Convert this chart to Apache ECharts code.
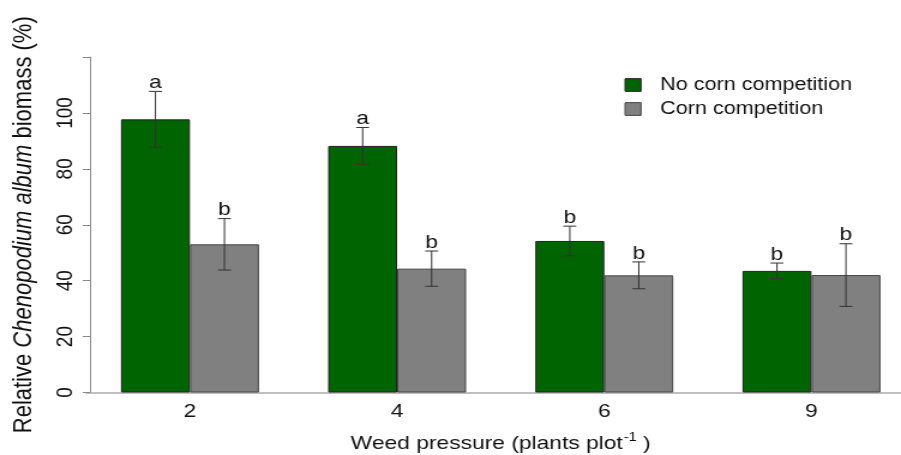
<!DOCTYPE html>
<html>
<head>
<meta charset="utf-8">
<script src="https://cdn.jsdelivr.net/npm/echarts@6/dist/echarts.min.js"></script>
<style>
html,body{margin:0;padding:0;background:#fff;overflow:hidden}
#c{width:751px;height:455px;transform:scaleX(1.19973);transform-origin:0 0}
</style>
</head>
<body>
<div id="c"></div>
<script>
var categories = ['2', '4', '6', '9'];
var noCorn = [97.7, 88.2, 54.2, 43.5];
var noCornErr = [10.0, 6.6, 5.3, 2.8];
var noCornLetters = ['a', 'a', 'b', 'b'];
var corn = [53.0, 44.3, 41.9, 42.0];
var cornErr = [9.2, 6.3, 4.8, 11.2];
var cornLetters = ['b', 'b', 'b', 'b'];
var yTicks = [0, 20, 40, 60, 80, 100];

var BAR_W = 57.5;
var FONT = 'Liberation Sans, Arial, Helvetica, sans-serif';
function errSeries(vals, errs, letters, side) {
  return {
    type: 'custom',
    z: 5,
    data: vals.map(function (v, i) { return [i, v, errs[i]]; }),
    renderItem: function (params, api) {
      var i = api.value(0), v = api.value(1), e = api.value(2);
      var top = api.coord([i, v + e]);
      var bot = api.coord([i, v - e]);
      var x = top[0] + side * BAR_W / 2;
      var cap = 5.4;
      var st = { stroke: '#333', lineWidth: 1 };
      return {
        type: 'group',
        children: [
          { type: 'line', shape: { x1: x, y1: top[1], x2: x, y2: bot[1] }, style: st },
          { type: 'line', shape: { x1: x - cap, y1: top[1], x2: x + cap, y2: top[1] }, style: st },
          { type: 'line', shape: { x1: x - cap, y1: bot[1], x2: x + cap, y2: bot[1] }, style: st },
          { type: 'text', style: { text: letters[params.dataIndex], x: x, y: top[1] + 1, align: 'center', verticalAlign: 'bottom', fontSize: 19, fontFamily: FONT, fill: '#111' } }
        ]
      };
    }
  };
}

var chart = echarts.init(document.getElementById('c'), null, { renderer: 'canvas' });
chart.setOption({
  animation: false,
  backgroundColor: '#fff',
  textStyle: { fontFamily: FONT },
  grid: { left: 72, top: 57, width: 690.7, bottom: 62.5, outerBoundsMode: 'none', containLabel: false },
  legend: {
    left: 515.5, top: 68, orient: 'vertical', itemGap: 0, itemWidth: 13.3, itemHeight: 12.7,
    textStyle: { fontSize: 18, color: '#111', lineHeight: 24, padding: [0, 0, 0, 11] },
    data: [
      { name: 'No corn competition', icon: 'rect', itemStyle: { color: '#006400', borderColor: '#222', borderWidth: 1 } },
      { name: 'Corn competition', icon: 'rect', itemStyle: { color: '#808080', borderColor: '#444', borderWidth: 1 } }
    ]
  },
  xAxis: {
    type: 'category', data: categories,
    axisLine: { show: true, lineStyle: { color: '#aaa', width: 1.5 } },
    axisTick: { show: false },
    axisLabel: { fontSize: 19, color: '#111', margin: 10 },
    name: '{a|Weed pressure (plants plot}{s|-1}{a| )}',
    nameLocation: 'middle', nameGap: 39,
    nameTextStyle: {
      rich: {
        a: { fontSize: 19, color: '#111', verticalAlign: 'bottom', lineHeight: 22 },
        s: { fontSize: 12, color: '#111', verticalAlign: 'top', lineHeight: 22, padding: [0, 0, 0, 1] }
      }
    }
  },
  yAxis: {
    type: 'value', min: 0, max: 120, interval: 20, offset: -3,
    axisLine: { show: true, lineStyle: { color: '#888' } },
    axisTick: { show: true, length: 6, lineStyle: { color: '#888' } },
    splitLine: { show: false },
    axisLabel: {
      rotate: 90, fontSize: 19, color: '#111', margin: 11,
      formatter: function (v) { return yTicks.indexOf(v) >= 0 ? String(v) : ''; }
    },
    name: '{a|Relative }{i|Chenopodium album}{a| biomass (%)}',
    nameLocation: 'middle', nameRotate: 90, nameGap: 44,
    nameTextStyle: {
      rich: {
        a: { fontSize: 22, color: '#111' },
        i: { fontSize: 22, color: '#111', fontStyle: 'italic' }
      }
    }
  },
  series: [
    { name: 'No corn competition', type: 'bar', data: noCorn, barWidth: BAR_W, barGap: '0%',
      itemStyle: { color: '#006400', borderColor: '#222', borderWidth: 1 } },
    { name: 'Corn competition', type: 'bar', data: corn, barWidth: BAR_W, barGap: '0%',
      itemStyle: { color: '#808080', borderColor: '#444', borderWidth: 1 } },
    errSeries(noCorn, noCornErr, noCornLetters, -1),
    errSeries(corn, cornErr, cornLetters, 1)
  ]
});
</script>
</body>
</html>
